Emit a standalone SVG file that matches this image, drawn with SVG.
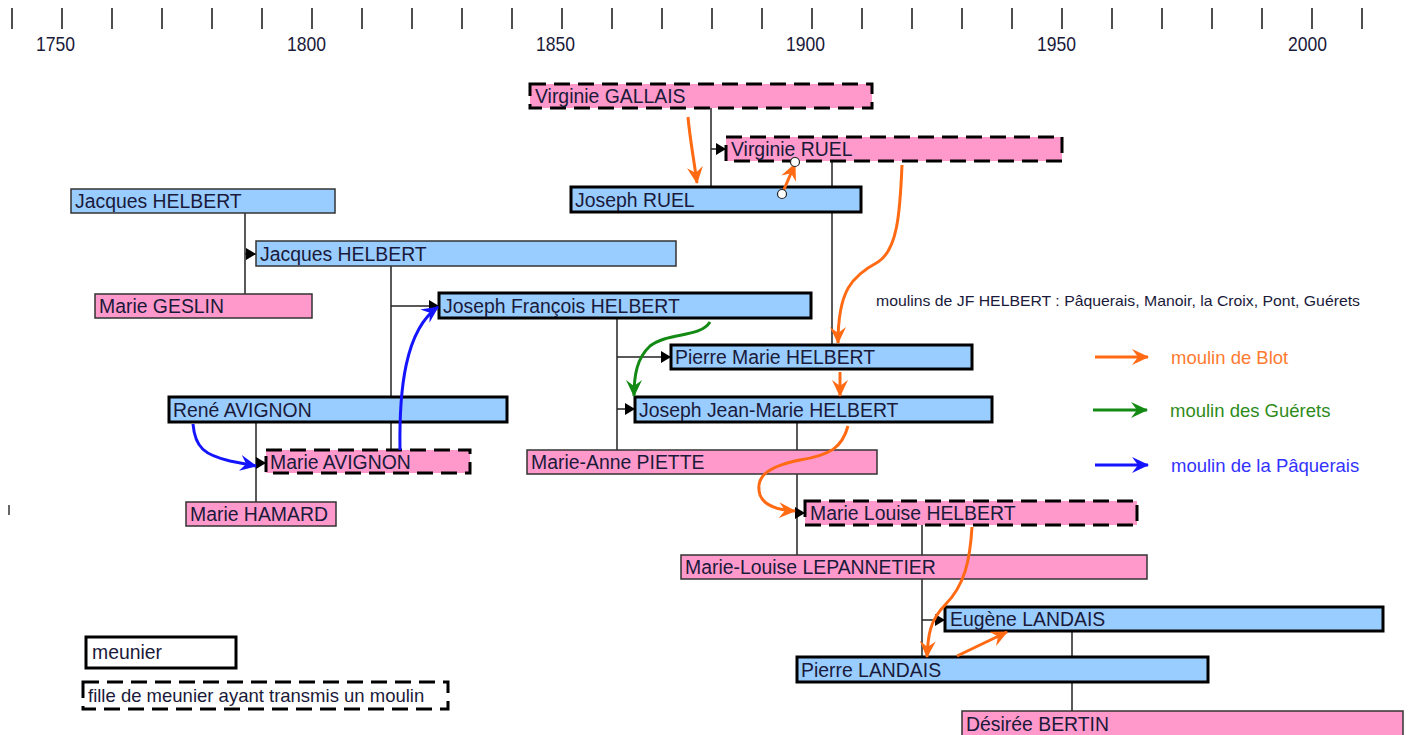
<svg xmlns="http://www.w3.org/2000/svg" width="1416" height="735" viewBox="0 0 1416 735">
<style>
  text { font-family: "Liberation Sans", Arial, sans-serif; fill: #1a1a3a; }
  .lbl { font-size: 19.4px; }
  .yr { font-size: 21px; }
  .tick { stroke: #222; stroke-width: 1.6; }
  .m { fill: #99ccff; }
  .f { fill: #ff99cc; }
  .thin { stroke: #333; stroke-width: 1.5; }
  .thick { stroke: #000; stroke-width: 3; }
  .dash { stroke: #000; stroke-width: 3; stroke-dasharray: 16 8; }
  .fam { stroke: #222; stroke-width: 1.5; fill: none; }
  .famarr { stroke: #222; stroke-width: 1.5; fill: none; marker-end: url(#blk); }
  .orange { stroke: #ff6a13; stroke-width: 3; fill: none; marker-end: url(#ao); }
  .green { stroke: #138a13; stroke-width: 3; fill: none; marker-end: url(#ag); }
  .blue { stroke: #1414ff; stroke-width: 3; fill: none; marker-end: url(#ab); }
  .handle { fill: #fff; stroke: #222; stroke-width: 1.2; }
</style>
<defs>
  <marker id="blk" markerUnits="userSpaceOnUse" markerWidth="10" markerHeight="12" refX="10" refY="6" orient="auto">
    <path d="M0,0 L10,6 L0,12 z" fill="#000"/>
  </marker>
  <marker id="ao" markerUnits="userSpaceOnUse" markerWidth="18" markerHeight="16" refX="16" refY="8" orient="auto">
    <path d="M0,0 L17,8 L0,16 L6,8 z" fill="#ff6a13"/>
  </marker>
  <marker id="ag" markerUnits="userSpaceOnUse" markerWidth="18" markerHeight="16" refX="16" refY="8" orient="auto">
    <path d="M0,0 L17,8 L0,16 L6,8 z" fill="#138a13"/>
  </marker>
  <marker id="ab" markerUnits="userSpaceOnUse" markerWidth="18" markerHeight="16" refX="16" refY="8" orient="auto">
    <path d="M0,0 L17,8 L0,16 L6,8 z" fill="#1414ff"/>
  </marker>
</defs>
<rect width="1416" height="735" fill="#fff"/>

<g id="axis">
  <line class="tick" x1="12" y1="8" x2="12" y2="29"/>
  <line class="tick" x1="62" y1="8" x2="62" y2="29"/>
  <line class="tick" x1="112" y1="8" x2="112" y2="29"/>
  <line class="tick" x1="162" y1="8" x2="162" y2="29"/>
  <line class="tick" x1="212" y1="8" x2="212" y2="29"/>
  <line class="tick" x1="262" y1="8" x2="262" y2="29"/>
  <line class="tick" x1="312" y1="8" x2="312" y2="29"/>
  <line class="tick" x1="362" y1="8" x2="362" y2="29"/>
  <line class="tick" x1="412" y1="8" x2="412" y2="29"/>
  <line class="tick" x1="462" y1="8" x2="462" y2="29"/>
  <line class="tick" x1="512" y1="8" x2="512" y2="29"/>
  <line class="tick" x1="562" y1="8" x2="562" y2="29"/>
  <line class="tick" x1="612" y1="8" x2="612" y2="29"/>
  <line class="tick" x1="662" y1="8" x2="662" y2="29"/>
  <line class="tick" x1="712" y1="8" x2="712" y2="29"/>
  <line class="tick" x1="762" y1="8" x2="762" y2="29"/>
  <line class="tick" x1="812" y1="8" x2="812" y2="29"/>
  <line class="tick" x1="862" y1="8" x2="862" y2="29"/>
  <line class="tick" x1="912" y1="8" x2="912" y2="29"/>
  <line class="tick" x1="962" y1="8" x2="962" y2="29"/>
  <line class="tick" x1="1012" y1="8" x2="1012" y2="29"/>
  <line class="tick" x1="1062" y1="8" x2="1062" y2="29"/>
  <line class="tick" x1="1112" y1="8" x2="1112" y2="29"/>
  <line class="tick" x1="1162" y1="8" x2="1162" y2="29"/>
  <line class="tick" x1="1212" y1="8" x2="1212" y2="29"/>
  <line class="tick" x1="1262" y1="8" x2="1262" y2="29"/>
  <line class="tick" x1="1312" y1="8" x2="1312" y2="29"/>
  <line class="tick" x1="1362" y1="8" x2="1362" y2="29"/>
  <text class="yr" x="36" y="51" textLength="39" lengthAdjust="spacingAndGlyphs">1750</text>
  <text class="yr" x="287" y="51" textLength="39" lengthAdjust="spacingAndGlyphs">1800</text>
  <text class="yr" x="536" y="51" textLength="39" lengthAdjust="spacingAndGlyphs">1850</text>
  <text class="yr" x="786" y="51" textLength="39" lengthAdjust="spacingAndGlyphs">1900</text>
  <text class="yr" x="1037" y="51" textLength="39" lengthAdjust="spacingAndGlyphs">1950</text>
  <text class="yr" x="1288" y="51" textLength="39" lengthAdjust="spacingAndGlyphs">2000</text>
  <line x1="9" y1="505" x2="9" y2="515" stroke="#333" stroke-width="1.5"/>
</g>

<g id="connectors">
  <line class="fam" x1="245" y1="213" x2="245" y2="294"/>
  <line class="famarr" x1="245" y1="254" x2="256" y2="254"/>
  <line class="fam" x1="391" y1="266" x2="391" y2="450"/>
  <line class="famarr" x1="391" y1="306" x2="439" y2="306"/>
  <line class="fam" x1="256" y1="422" x2="256" y2="502"/>
  <line class="famarr" x1="256" y1="463" x2="266" y2="463"/>
  <line class="fam" x1="711" y1="108" x2="711" y2="187"/>
  <line class="famarr" x1="711" y1="149" x2="726" y2="149"/>
  <line class="fam" x1="832" y1="161" x2="832" y2="345"/>
  <line class="fam" x1="617" y1="318" x2="617" y2="450"/>
  <line class="famarr" x1="617" y1="357" x2="671" y2="357"/>
  <line class="famarr" x1="617" y1="409" x2="635" y2="409"/>
  <line class="fam" x1="797" y1="422" x2="797" y2="555"/>
  <line class="famarr" x1="797" y1="513" x2="805" y2="513"/>
  <line class="fam" x1="922" y1="525" x2="922" y2="657"/>
  <line class="famarr" x1="922" y1="620" x2="945" y2="620"/>
  <line class="fam" x1="1072" y1="631" x2="1072" y2="711"/>
</g>

<g id="n-jacques1"><rect class="m thin" x="71" y="189" width="264" height="24"/><text class="lbl" x="75" y="208">Jacques HELBERT</text></g>
<g id="n-jacques2"><rect class="m thin" x="256" y="241" width="420" height="25"/><text class="lbl" x="260" y="261">Jacques HELBERT</text></g>
<g id="n-marie-geslin"><rect class="f thin" x="95" y="294" width="217" height="24"/><text class="lbl" x="99" y="313">Marie GESLIN</text></g>
<g id="n-joseph-francois"><rect class="m thick" x="439" y="293" width="372" height="25"/><text class="lbl" x="443" y="313">Joseph François HELBERT</text></g>
<g id="n-rene-avignon"><rect class="m thick" x="169" y="397" width="338" height="25"/><text class="lbl" x="173" y="417">René AVIGNON</text></g>
<g id="n-marie-avignon"><rect class="f dash" x="266" y="450" width="204" height="23"/><text class="lbl" x="270" y="469">Marie AVIGNON</text></g>
<g id="n-marie-hamard"><rect class="f thin" x="186" y="502" width="150" height="24"/><text class="lbl" x="190" y="521">Marie HAMARD</text></g>
<g id="n-virginie-gallais"><rect class="f dash" x="530" y="84" width="342" height="24"/><text class="lbl" x="535" y="103">Virginie GALLAIS</text></g>
<g id="n-virginie-ruel"><rect class="f dash" x="726" y="137" width="336" height="24"/><text class="lbl" x="731" y="156">Virginie RUEL</text></g>
<g id="n-joseph-ruel"><rect class="m thick" x="571" y="187" width="290" height="25"/><text class="lbl" x="575" y="207">Joseph RUEL</text></g>
<g id="n-pierre-marie"><rect class="m thick" x="671" y="345" width="301" height="24"/><text class="lbl" x="675" y="364">Pierre Marie HELBERT</text></g>
<g id="n-joseph-jean-marie"><rect class="m thick" x="635" y="397" width="357" height="25"/><text class="lbl" x="639" y="417">Joseph Jean-Marie HELBERT</text></g>
<g id="n-marie-anne-piette"><rect class="f thin" x="527" y="450" width="350" height="24"/><text class="lbl" x="531" y="469">Marie-Anne PIETTE</text></g>
<g id="n-marie-louise-helbert"><rect class="f dash" x="805" y="501" width="332" height="24"/><text class="lbl" x="810" y="520">Marie Louise HELBERT</text></g>
<g id="n-lepannetier"><rect class="f thin" x="681" y="555" width="466" height="24"/><text class="lbl" x="685" y="574">Marie-Louise LEPANNETIER</text></g>
<g id="n-eugene-landais"><rect class="m thick" x="945" y="607" width="438" height="24"/><text class="lbl" x="950" y="626">Eugène LANDAIS</text></g>
<g id="n-pierre-landais"><rect class="m thick" x="797" y="657" width="411" height="25"/><text class="lbl" x="801" y="677">Pierre LANDAIS</text></g>
<g id="n-desiree-bertin"><rect class="f thin" x="962" y="711" width="441" height="26"/><text class="lbl" x="966" y="731">Désirée BERTIN</text></g>

<g id="mill-arrows">
  <path class="orange" d="M688,117 C690,140 694,160 697,183"/>
  <path class="orange" d="M782,194 L795,164"/>
  <circle class="handle" cx="782" cy="194" r="4.5"/>
  <circle class="handle" cx="795" cy="162" r="4.5"/>
  <path class="orange" d="M902,165 C900,215 897,250 878,262 C852,276 838,290 838,343"/>
  <path class="orange" d="M840,372 L840,396"/>
  <path class="orange" d="M848,426 C842,448 830,455 800,460 C765,467 755,478 760,495 C764,505 775,510 795,511"/>
  <path class="orange" d="M972,527 C970,560 965,585 945,605 C930,620 928,635 927,657"/>
  <path class="orange" d="M957,656 L1007,632"/>
  <path class="green" d="M710,322 C700,338 668,332 650,346 C637,358 634,375 634,396"/>
  <path class="blue" d="M193,424 C195,448 205,455 230,461 L256,466"/>
  <path class="blue" d="M400,450 C399,390 405,330 438,307"/>
</g>

<g id="legend">
  <text x="876" y="306" style="font-size:14.5px" fill="#222" textLength="484" lengthAdjust="spacingAndGlyphs">moulins de JF HELBERT : Pâquerais, Manoir, la Croix, Pont, Guérets</text>
  <path class="orange" d="M1095,357 L1148,357"/>
  <text x="1171" y="364" style="font-size:18.5px;fill:#ff7a30">moulin de Blot</text>
  <path class="green" d="M1093,410 L1147,410"/>
  <text x="1170" y="417" style="font-size:18.5px;fill:#2e8b1a">moulin des Guérets</text>
  <path class="blue" d="M1095,465 L1148,465"/>
  <text x="1171" y="472" style="font-size:18.5px;fill:#3333ff">moulin de la Pâquerais</text>
  <g id="legend-meunier"><rect x="86" y="637" width="150" height="31" fill="#fff" stroke="#000" stroke-width="3"/><text class="lbl" x="92" y="659">meunier</text></g>
  <g id="legend-fille"><rect x="83" y="682" width="365" height="27" fill="#fff" class="dash"/><text x="88" y="702" style="font-size:18.5px">fille de meunier ayant transmis un moulin</text></g>
</g>
</svg>
